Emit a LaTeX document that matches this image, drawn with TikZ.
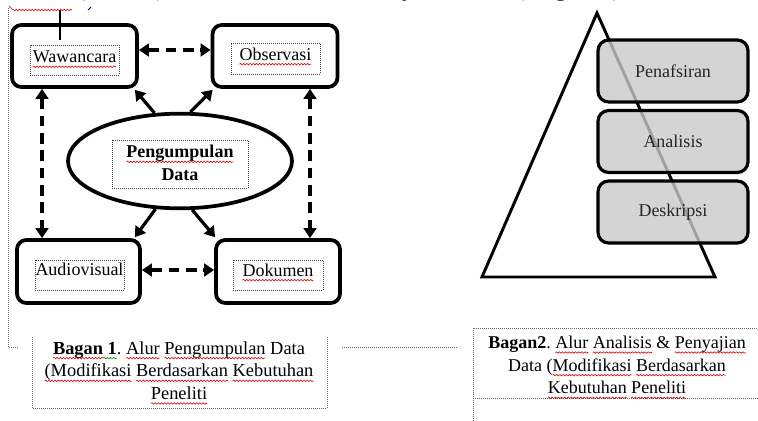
\documentclass[tikz,border=0pt]{standalone}
\usepackage{fontspec}
\setmainfont{Liberation Serif}
\usetikzlibrary{arrows.meta,shapes.geometric,calc,decorations.pathmorphing}
\tikzset{wavy/.style={line width=0.45pt,decorate,decoration={snake,amplitude=0.55pt,segment length=2.4pt}}}
\newcommand\wavyword[2]{\tikz[baseline=(rwx.base)]{\node[inner sep=0pt,outer sep=0pt,draw=none,fill=none,align=left] (rwx) {#2};
  \draw[overlay,#1,wavy] ([yshift=-3pt]rwx.base west) -- ([yshift=-3pt]rwx.base east);}}
\newcommand\rw[1]{\wavyword{red!85!black}{#1}}
\newcommand\gw[1]{\wavyword{green!55!black}{#1}}
\frenchspacing
\begin{document}
\begin{tikzpicture}[x=0.75pt,y=-0.75pt,
  box/.style={draw,line width=2.8pt,rounded corners=7pt,minimum width=93.75pt,minimum height=46.5pt,inner sep=0pt},
  gbox/.style={draw,line width=2.4pt,rounded corners=8pt,minimum width=112.5pt,minimum height=46.5pt,inner sep=0pt,
    fill={rgb,1:red,0.79;green,0.79;blue,0.79},fill opacity=0.8,text opacity=1,
    font=\fontsize{13.5}{16}\selectfont,text=black!85},
  lbl/.style={font=\fontsize{13.5}{16}\selectfont,inner sep=0pt},
  dotbox/.style={draw,densely dotted,line width=0.5pt,black!75},
  darr/.style={line width=2.4pt,dash pattern=on 8pt off 5pt,{Triangle[length=7.5pt,width=9.5pt]}-{Triangle[length=7.5pt,width=9.5pt]}},
  sarr/.style={line width=2.4pt,-{Triangle[length=7.5pt,width=9.5pt]}},
  framel/.style={densely dotted,line width=0.5pt,black!60},
]
\useasboundingbox (0,0) rectangle (758,421);

% clipped body text line at top
\begin{scope}
\clip (0,0) rectangle (758,421);
\node[anchor=base west,inner sep=0pt,font=\fontsize{20}{24}\selectfont] (toptext) at (12,-5)
  {tanda (makna) sebuah dalam kebudayaan suku (Bagan 2).};
\end{scope}
\coordinate (w1) at (12,10);
\coordinate (w2) at (72,10);
\draw[red!85!black,wavy] (w1) -- (w2);
\coordinate (m1) at (9,6);
\coordinate (m2) at (12,9);
\draw[black!60,line width=0.6pt] (m1) -- (m2);
\coordinate (m3) at (88,10);
\coordinate (m4) at (91,7);
\draw[blue!60!black,line width=0.7pt] (m3) -- (m4);

% frame lines
\coordinate (f1) at (8,8);
\coordinate (f2) at (8,347);
\coordinate (f3) at (18,347);
\draw[framel] (f1) -- (f2) -- (f3);
\coordinate (f4) at (342,347);
\coordinate (f5) at (458,347);
\draw[framel] (f4) -- (f5);
\coordinate (v1) at (60,10);
\coordinate (v2) at (60,40);
\draw[line width=0.8pt] (v1) -- (v2);

% ---------- left diagram ----------
\node[box] (waw) at (74.5,56) {};
\node[box] (obs) at (275,56) {};
\node[box,minimum width=92.25pt,minimum height=47.25pt] (aud) at (78.5,271.5) {};
\node[box,minimum width=93pt,minimum height=47.25pt] (dok) at (278,271.5) {};
\node[ellipse,draw,line width=2.8pt,minimum width=168pt,minimum height=71pt] (ell) at (180,161) {};

\node[dotbox,minimum width=66.75pt,minimum height=22.5pt] (wawd) at (74.5,60) {};
\node[dotbox,minimum width=66.75pt,minimum height=23.25pt] (obsd) at (275.5,58.5) {};
\node[dotbox,minimum width=66.75pt,minimum height=22.5pt] (audd) at (79.5,275) {};
\node[dotbox,minimum width=67.5pt,minimum height=22.5pt] (dokd) at (278,275) {};
\node[dotbox,minimum width=102pt,minimum height=36pt] (elld) at (180,164) {};

\node[lbl] (wawt) at (74.5,57) {\rw{Wawancara}};
\node[lbl] (obst) at (275.5,54) {\rw{Observasi}};
\node[lbl] (audt) at (79.5,269) {Audiovisual};
\node[lbl] (dokt) at (278,270) {\rw{Dokumen}};
\node[lbl,align=center,font=\bfseries\fontsize{13.5}{17}\selectfont] (ellt) at (180,163) {\rw{Pengumpulan}\\Data};

\draw[darr] (waw.east |- 0,50) -- (obs.west |- 0,50);
\draw[darr] (aud.east |- 0,270) -- (dok.west |- 0,270);
\draw[darr] (waw.south -| 42,0) -- (aud.north -| 42,0);
\draw[darr] (obs.south -| 310,0) -- (dok.north -| 310,0);

\draw[sarr] (ell.118) -- ($(waw.south east)+(-4,1)$);
\draw[sarr] (ell.78) -- ($(obs.south west)+(2,1)$);
\draw[sarr] (ell.243) -- ($(aud.north east)+(-7,-1)$);
\draw[sarr] (ell.284) -- ($(dok.north west)+(1,-1)$);

% caption 1
\coordinate (c1a) at (32,337);
\coordinate (c1b) at (32,408);
\coordinate (c1c) at (327,408);
\coordinate (c1d) at (327,337);
\draw[framel] (c1a) -- (c1b) -- (c1c) -- (c1d);
\node[lbl,align=center,font=\fontsize{13.8}{17}\selectfont] (cap1) at (179,370.5)
  {\textbf{\rw{Bagan}\gw{~1}}. \rw{Alur} \rw{Pengumpulan} Data\\\rw{(Modifikasi} \rw{Berdasarkan} \rw{Kebutuhan}\\\rw{Peneliti}};

% ---------- right diagram ----------
\coordinate (apex) at (597,13);
\coordinate (bl) at (482,277);
\coordinate (br) at (715,277);
\draw[line width=2.2pt,line join=miter] (apex) -- (bl) -- (br) -- cycle;

\node[gbox] (pen) at (673,71) {Penafsiran};
\node[gbox] (ana) at (673,141.5) {Analisis};
\node[gbox] (des) at (673,212) {Deskripsi};

% caption 2
\coordinate (c2a) at (473,421);
\coordinate (c2b) at (473,328);
\coordinate (c2c) at (758,328);
\coordinate (c2d) at (473,398);
\coordinate (c2e) at (758,398);
\draw[framel] (c2a) -- (c2b) -- (c2c);
\draw[framel] (c2d) -- (c2e);
\node[lbl,align=center,font=\fontsize{13.5}{17}\selectfont] (cap2) at (617,365)
  {\textbf{Bagan2}. \rw{Alur} \rw{Analisis} \& \rw{Penyajian}\\Data (\rw{Modifikasi} \rw{Berdasarkan}\\\rw{Kebutuhan} \rw{Peneliti}};
\end{tikzpicture}
\end{document}
